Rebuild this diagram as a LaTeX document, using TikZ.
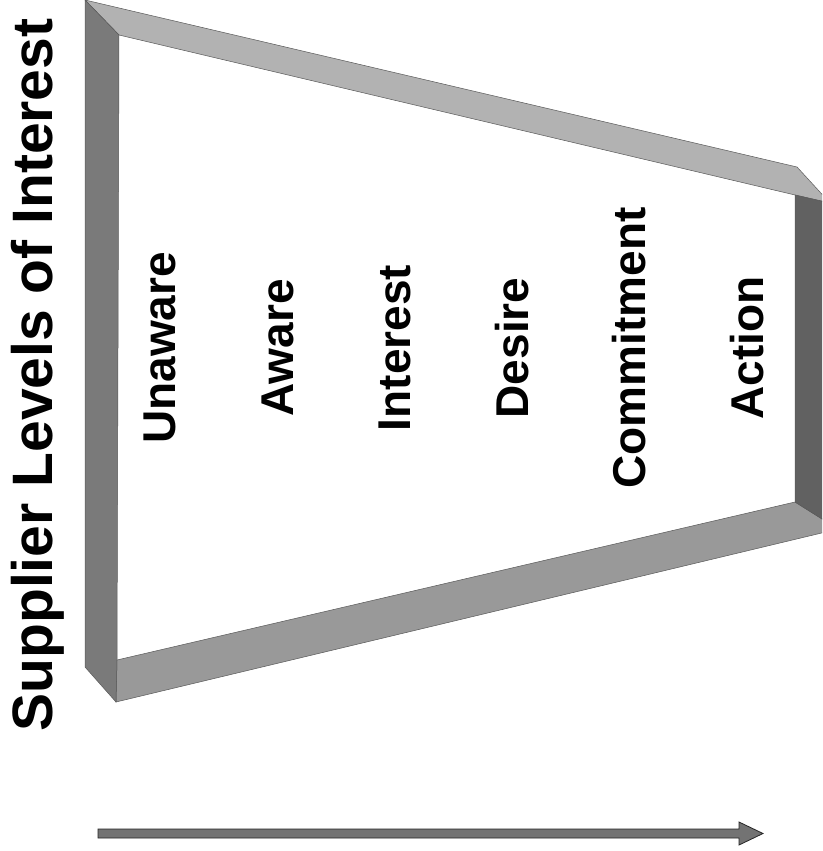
\documentclass[tikz,border=0pt]{standalone}
\usepackage{fontspec}
\setmainfont{Liberation Sans}
\begin{document}
\begin{tikzpicture}[x=1pt,y=-1pt,
  face/.style={draw=black!65,line width=0.5pt,line join=miter},
  word/.style={rotate=90,anchor=base,inner sep=0pt,font=\fontsize{46}{50}\selectfont\bfseries},
  heading/.style={rotate=90,anchor=base,inner sep=0pt,font=\fontsize{57}{60}\selectfont\bfseries}]
  % page
  \fill[white] (0,0) rectangle (822,851);
  \useasboundingbox (0,0) rectangle (822,851);

  % funnel frame: four bevelled faces
  \begin{scope}
    \clip (0,0) rectangle (822,851);
    % top face
    \filldraw[face,fill=black!30] (85,0) -- (797,167) -- (830,203) -- (795,195) -- (119,35) -- cycle;
    % bottom face
    \filldraw[face,fill=black!40] (117,660) -- (795,502) -- (830,524) -- (830,531) -- (116,702) -- cycle;
    % right face
    \filldraw[face,fill=black!62] (795,195) -- (830,203) -- (830,524) -- (795,502) -- cycle;
    % left face
    \filldraw[face,fill=black!52] (85,0) -- (119,35) -- (117,660) -- (116,702) -- (85,667) -- cycle;
  \end{scope}

  % heading
  \node[heading] (title) at (52,375) {Supplier Levels of Interest};

  % stages
  \node[word] (unaware)    at (175,348) {Unaware};
  \node[word] (aware)      at (293,348) {Aware};
  \node[word] (interest)   at (410,348) {Interest};
  \node[word] (desire)     at (528,348) {Desire};
  \node[word] (commitment) at (645,348) {Commitment};
  \node[word] (action)     at (763,348) {Action};

  % progress arrow
  \filldraw[fill=black!55,draw=black!85,line width=0.8pt,line join=miter]
    (98,829) -- (739,829) -- (739,822) -- (763,833.5) -- (739,845) -- (739,838) -- (98,838) -- cycle;
\end{tikzpicture}
\end{document}
